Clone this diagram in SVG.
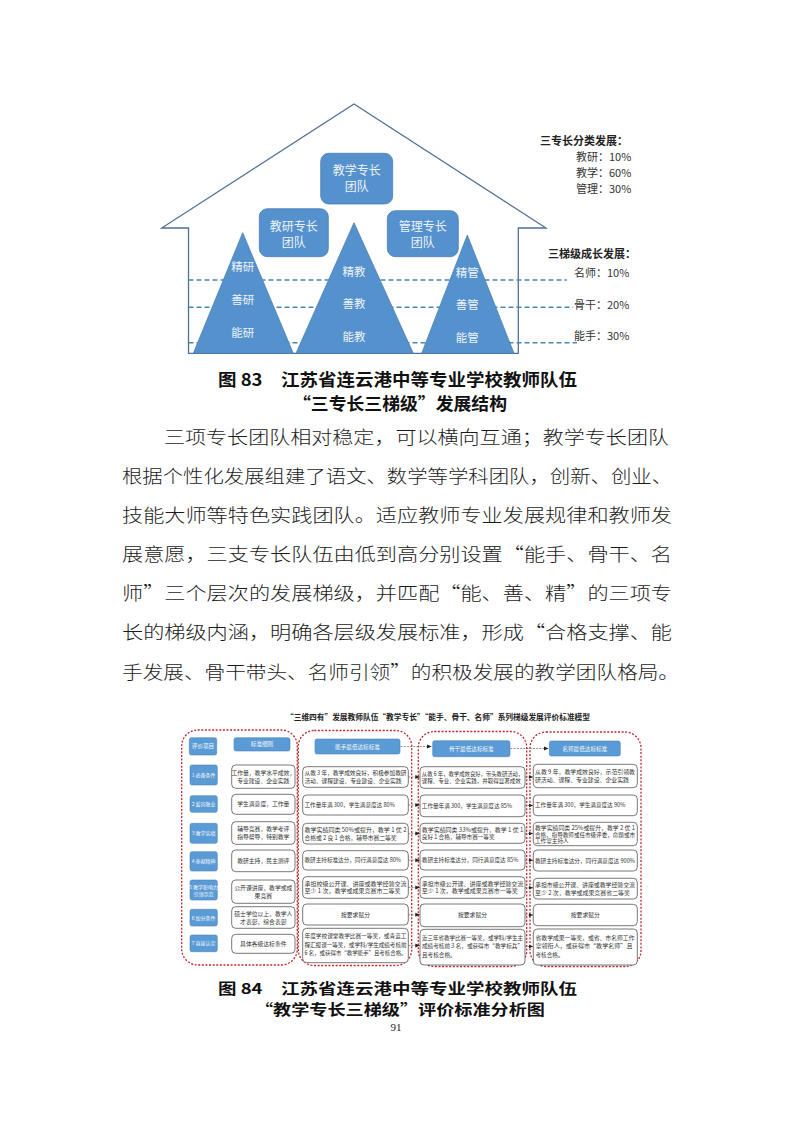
<svg xmlns="http://www.w3.org/2000/svg" width="793" height="1122" viewBox="0 0 793 1122">
<defs>
<style>
.cjk{font-family:"Noto Sans CJK SC","Liberation Sans",sans-serif}
.house{fill:#fff;stroke:#4f7196;stroke-width:1.3}
.lvl{stroke:#4a87ad;stroke-width:1.4;stroke-dasharray:5 3;fill:none}
.tri{fill:#5592cd;stroke:#4a7fb3;stroke-width:0.8}
.tbox{fill:#5592cd;stroke:#4a7fb3;stroke-width:0.8}
.tl{font-size:11.5px;fill:#eef2f7;text-anchor:middle}
.bl{font-size:12px;fill:#eef2f7;text-anchor:middle}
.side{font-size:11px;fill:#333}
.sideb{font-size:11px;fill:#222;font-weight:bold}
.cap{font-size:17px;font-weight:bold;fill:#111}
.cap2{font-size:14.5px;font-weight:bold;fill:#111}
.body{font-size:18px;fill:#1a1a1a;font-weight:300}
.cont{fill:#fff;stroke:#c0282d;stroke-width:1.3;stroke-dasharray:2 1.6}
.blue{fill:#5b9bd5;stroke:#4a84bb;stroke-width:0.6}
.wb{fill:#fff;stroke:#555;stroke-width:0.8}
.lab{font-size:5.6px;fill:#f4f8fc;text-anchor:middle}
.labs{font-size:5px;fill:#f4f8fc;text-anchor:middle}
.t{font-size:5.6px;fill:#333}
.tc{font-size:5.8px;fill:#333;text-anchor:middle}
.conn{stroke:#666;stroke-width:0.7;stroke-dasharray:2 1.2;fill:none}
</style>
<marker id="arr" markerWidth="5" markerHeight="5" refX="4.5" refY="2.5" orient="auto" markerUnits="userSpaceOnUse">
<path d="M0,0.5 L4.5,2.5 L0,4.5 Z" fill="#222"/>
</marker>
</defs>
<rect width="793" height="1122" fill="#fff"/>

<!-- Figure 83 -->
<g id="house">
<path class="house" d="M188.5,353.3 L188.5,228 L161.7,228 L354,104 L546,228 L518.3,228 L518.3,353.3 Z"/>
</g>
<g id="levels">
<line class="lvl" x1="188.5" y1="280" x2="567" y2="280"/>
<line class="lvl" x1="188.5" y1="307.3" x2="573" y2="307.3"/>
<line class="lvl" x1="188.5" y1="342.7" x2="577" y2="342.7"/>
</g>
<g id="tri-research" class="cjk">
<polygon class="tri" points="242.7,232.7 193.3,353.3 293.3,353.3"/>
<text class="tl" x="242.7" y="271">精研</text>
<text class="tl" x="242.7" y="304">善研</text>
<text class="tl" x="242.7" y="337">能研</text>
</g>
<g id="tri-teach" class="cjk">
<polygon class="tri" points="354,222.7 296,353.3 413.3,353.3"/>
<text class="tl" x="354" y="276">精教</text>
<text class="tl" x="354" y="307.5">善教</text>
<text class="tl" x="354" y="341">能教</text>
</g>
<g id="tri-manage" class="cjk">
<polygon class="tri" points="467.3,235 421.7,353.3 514,353.3"/>
<text class="tl" x="467.3" y="277">精管</text>
<text class="tl" x="467.3" y="309">善管</text>
<text class="tl" x="467.3" y="341.5">能管</text>
</g>
<g id="box-teach" class="cjk">
<rect class="tbox" x="320.7" y="153.3" width="72" height="50.7" rx="8"/>
<text class="bl" x="356.7" y="175">教学专长</text>
<text class="bl" x="356.7" y="190.5">团队</text>
</g>
<g id="box-research" class="cjk">
<rect class="tbox" x="259.3" y="208.7" width="69" height="48" rx="8"/>
<text class="bl" x="293.8" y="230.5">教研专长</text>
<text class="bl" x="293.8" y="247">团队</text>
</g>
<g id="box-manage" class="cjk">
<rect class="tbox" x="387.3" y="210.7" width="71" height="46" rx="8"/>
<text class="bl" x="422.8" y="231">管理专长</text>
<text class="bl" x="422.8" y="247">团队</text>
</g>
<g id="legend" class="cjk">
<text class="sideb" x="540" y="144.5">三专长分类发展：</text>
<text class="side" x="576" y="160.5">教研：10%</text>
<text class="side" x="576" y="176.5">教学：60%</text>
<text class="side" x="576" y="193">管理：30%</text>
<text class="sideb" x="548" y="258">三梯级成长发展：</text>
<text class="side" x="574" y="277">名师：10%</text>
<text class="side" x="574" y="309">骨干：20%</text>
<text class="side" x="574" y="340">能手：30%</text>
</g>

<g id="caption83" class="cjk">
<text class="cap" x="218" y="385.5" textLength="359" lengthAdjust="spacingAndGlyphs">图 83　江苏省连云港中等专业学校教师队伍</text>
<text class="cap" x="293" y="409.5" textLength="214" lengthAdjust="spacingAndGlyphs">“三专长三梯级”发展结构</text>
</g>

<g id="body" class="cjk">
<text class="body" x="164" y="443.5" textLength="505" lengthAdjust="spacingAndGlyphs">三项专长团队相对稳定，可以横向互通；教学专长团队</text>
<text class="body" x="122" y="483" textLength="550" lengthAdjust="spacingAndGlyphs">根据个性化发展组建了语文、数学等学科团队，创新、创业、</text>
<text class="body" x="122" y="521.5" textLength="550" lengthAdjust="spacingAndGlyphs">技能大师等特色实践团队。适应教师专业发展规律和教师发</text>
<text class="body" x="122" y="560.5" textLength="550" lengthAdjust="spacingAndGlyphs">展意愿，三支专长队伍由低到高分别设置“能手、骨干、名</text>
<text class="body" x="122" y="600" textLength="550" lengthAdjust="spacingAndGlyphs">师”三个层次的发展梯级，并匹配“能、善、精”的三项专</text>
<text class="body" x="122" y="639" textLength="550" lengthAdjust="spacingAndGlyphs">长的梯级内涵，明确各层级发展标准，形成“合格支撑、能</text>
<text class="body" x="122" y="678.5" textLength="557" lengthAdjust="spacingAndGlyphs">手发展、骨干带头、名师引领”的积极发展的教学团队格局。</text>
</g>

<!-- Figure 84 -->
<g id="title84" class="cjk">
<text x="286" y="719.5" font-size="7.6" font-weight="bold" fill="#222" textLength="304" lengthAdjust="spacingAndGlyphs">“三维四有”发展教师队伍“教学专长”“能手、骨干、名师”系列梯级发展评价标准模型</text>
</g>

<g id="containers">
<rect class="cont" x="181.7" y="730" width="115.6" height="235" rx="16"/>
<rect class="cont" x="298.3" y="730.5" width="113.4" height="235" rx="16"/>
<rect class="cont" x="418.3" y="731.5" width="108.4" height="235" rx="16"/>
<rect class="cont" x="530" y="732" width="111" height="234.5" rx="16"/>
</g>

<g id="col-items" class="cjk">
<g id="h-item"><rect class="blue" x="189.3" y="737.7" width="27.4" height="17.3" rx="2"/><text class="lab" x="203" y="748.3">评价项目</text></g>
<g id="i1"><rect class="blue" x="190" y="765" width="27.3" height="20" rx="2"/><text class="labs" x="203.6" y="777">1 必备条件</text></g>
<g id="i2"><rect class="blue" x="190" y="795.7" width="27.3" height="16.6" rx="2"/><text class="labs" x="203.6" y="805.8">2 爱岗敬业</text></g>
<g id="i3"><rect class="blue" x="190" y="823.3" width="27.3" height="20" rx="2"/><text class="labs" x="203.6" y="835.2">3 教学实绩</text></g>
<g id="i4"><rect class="blue" x="190" y="851.7" width="27.3" height="19.3" rx="2"/><text class="labs" x="203.6" y="863.2">4 奉献精神</text></g>
<g id="i5"><rect class="blue" x="190" y="880" width="27.3" height="20" rx="2"/><text class="labs" x="203.6" y="888.6">5 教学影响力</text><text class="labs" x="203.6" y="895.8">引领示范</text></g>
<g id="i6"><rect class="blue" x="190" y="909.3" width="27.3" height="16.7" rx="2"/><text class="labs" x="203.6" y="919.5">6 加分条件</text></g>
<g id="i7"><rect class="blue" x="190" y="935" width="27.3" height="16.7" rx="2"/><text class="labs" x="203.6" y="945.2">7 直接认定</text></g>
</g>

<g id="col-rules" class="cjk">
<g id="r-h"><rect class="blue" x="234" y="737.7" width="56" height="13.3" rx="2"/><text class="lab" x="262" y="746.4">标准细则</text></g>
<g id="r1"><rect class="wb" x="231.7" y="765" width="63.3" height="23.3" rx="4"/><text class="tc" x="263.3" y="775">工作量，教学水平成效，</text><text class="tc" x="263.3" y="782.5">专业建设、企业实践</text></g>
<g id="r2"><rect class="wb" x="231.7" y="794.3" width="63.3" height="20" rx="4"/><text class="tc" x="263.3" y="806.3">学生满意度，工作量</text></g>
<g id="r3"><rect class="wb" x="231.7" y="821.7" width="63.3" height="22.6" rx="4"/><text class="tc" x="263.3" y="831.3">辅导竞赛，教学考评</text><text class="tc" x="263.3" y="839">指导帮导，特别教学</text></g>
<g id="r4"><rect class="wb" x="231.7" y="850" width="63.3" height="21.7" rx="4"/><text class="tc" x="263.3" y="862.8">教研主持，民主测评</text></g>
<g id="r5"><rect class="wb" x="231.7" y="880" width="63.3" height="23.3" rx="4"/><text class="tc" x="263.3" y="890">公开课讲座，教学或成</text><text class="tc" x="263.3" y="897.6">果竞赛</text></g>
<g id="r6"><rect class="wb" x="231.7" y="906.7" width="63.3" height="21.6" rx="4"/><text class="tc" x="263.3" y="916">硕士学位以上，教学人</text><text class="tc" x="263.3" y="923.6">才表彰，综合表彰</text></g>
<g id="r7"><rect class="wb" x="231.7" y="934.3" width="63.3" height="19" rx="4"/><text class="tc" x="263.3" y="945.8">具体各级达标条件</text></g>
</g>

<g id="col-nengshou" class="cjk">
<g id="n-h"><rect class="blue" x="315" y="739" width="85" height="15" rx="2"/><text class="lab" x="357.5" y="748.6">能手最低达标标准</text></g>
<g id="n1"><rect class="wb" x="302.7" y="766.7" width="105.6" height="20.6" rx="4"/><text class="t" x="304.5" y="775.3" textLength="102" lengthAdjust="spacingAndGlyphs">从教 3 年，教学成效良好，积极参加教研</text><text class="t" x="304.5" y="782.8" textLength="97" lengthAdjust="spacingAndGlyphs">活动、课程建设、专业建设、企业实践</text></g>
<g id="n2"><rect class="wb" x="302.7" y="795" width="105.6" height="20" rx="4"/><text class="t" x="304.5" y="807">工作量年满 300，学生满意度达 80%</text></g>
<g id="n3"><rect class="wb" x="302.7" y="823.3" width="105.6" height="20.7" rx="4"/><text class="t" x="304.5" y="832" textLength="102" lengthAdjust="spacingAndGlyphs">教学实绩同类 50%或提升，教学 1 优 2</text><text class="t" x="304.5" y="839.5" textLength="92" lengthAdjust="spacingAndGlyphs">合格或 2 良 1 合格，辅导市赛二等奖</text></g>
<g id="n4"><rect class="wb" x="302.7" y="850.7" width="105.6" height="19.3" rx="4"/><text class="t" x="304.5" y="862.3">教研主持标准达分，同行满意度达 80%</text></g>
<g id="n5"><rect class="wb" x="302.7" y="876.7" width="105.6" height="21.6" rx="4"/><text class="t" x="304.5" y="885.8" textLength="102" lengthAdjust="spacingAndGlyphs">承担校级公开课、讲座或教学经验交流</text><text class="t" x="304.5" y="893.3" textLength="96" lengthAdjust="spacingAndGlyphs">至少 1 次，教学或成果竞赛市二等奖</text></g>
<g id="n6"><rect class="wb" x="302.7" y="904" width="105.6" height="21" rx="4"/><text class="tc" x="355.5" y="916.5">按要求赋分</text></g>
<g id="n7"><rect class="wb" x="302.7" y="928.3" width="105.6" height="34.4" rx="4"/><text class="t" x="304.5" y="938" textLength="102" lengthAdjust="spacingAndGlyphs">年度学校课堂教学比赛一等奖，或青蓝工</text><text class="t" x="304.5" y="946.5" textLength="102" lengthAdjust="spacingAndGlyphs">程汇报课一等奖，或学科/学生成绩考核前</text><text class="t" x="304.5" y="955" textLength="102" lengthAdjust="spacingAndGlyphs">6 名，或获得市“教学能手”且考核合格。</text></g>
</g>

<g id="col-gugan" class="cjk">
<g id="g-h"><rect class="blue" x="432.7" y="740.7" width="77.3" height="16" rx="2"/><text class="lab" x="471.3" y="750.8">骨干最低达标标准</text></g>
<g id="g1"><rect class="wb" x="420" y="766.7" width="105" height="21.6" rx="4"/><text class="t" x="421.8" y="775.8" textLength="101.5" lengthAdjust="spacingAndGlyphs">从教 6 年，教学成效良好，带头教研活动，</text><text class="t" x="421.8" y="783.3" textLength="99" lengthAdjust="spacingAndGlyphs">课程、专业、企业实践，并取得显著成效</text></g>
<g id="g2"><rect class="wb" x="420" y="795" width="105" height="21.7" rx="4"/><text class="t" x="421.8" y="807.8">工作量年满 300，学生满意度达 85%</text></g>
<g id="g3"><rect class="wb" x="420" y="823.3" width="105" height="20" rx="4"/><text class="t" x="421.8" y="831.8" textLength="101.5" lengthAdjust="spacingAndGlyphs">教学实绩同类 33%或提升，教学 1 优 1</text><text class="t" x="421.8" y="839.3">良好 1 合格，辅导市赛一等奖</text></g>
<g id="g4"><rect class="wb" x="420" y="850" width="105" height="20" rx="4"/><text class="t" x="421.8" y="862">教研主持标准达分，同行满意度达 85%</text></g>
<g id="g5"><rect class="wb" x="420" y="876.7" width="105" height="21.6" rx="4"/><text class="t" x="421.8" y="885.8" textLength="101.5" lengthAdjust="spacingAndGlyphs">承担市级公开课、讲座或教学经验交流</text><text class="t" x="421.8" y="893.3" textLength="96" lengthAdjust="spacingAndGlyphs">至少 1 次，教学或成果竞赛市一等奖</text></g>
<g id="g6"><rect class="wb" x="420" y="904" width="105" height="22.7" rx="4"/><text class="tc" x="472.5" y="917.3">按要求赋分</text></g>
<g id="g7"><rect class="wb" x="420" y="929.3" width="105" height="35.7" rx="4"/><text class="t" x="422" y="939.5" textLength="101" lengthAdjust="spacingAndGlyphs">近三年省教学比赛一等奖，或学科/学生主</text><text class="t" x="422" y="948" textLength="101" lengthAdjust="spacingAndGlyphs">成绩考核前 3 名，或获得市“教学标兵”</text><text class="t" x="422" y="956.5">且考核合格。</text></g>
</g>

<g id="col-mingshi" class="cjk">
<g id="m-h"><rect class="blue" x="549.3" y="741" width="71" height="15" rx="2"/><text class="lab" x="584.8" y="750.6">名师最低达标标准</text></g>
<g id="m1"><rect class="wb" x="533.3" y="764.3" width="104" height="23.4" rx="4"/><text class="t" x="535" y="774" textLength="100" lengthAdjust="spacingAndGlyphs">从教 9 年，教学成效良好，示范引领教</text><text class="t" x="535" y="781.8" textLength="94" lengthAdjust="spacingAndGlyphs">研活动、课程、专业建设、企业实践</text></g>
<g id="m2"><rect class="wb" x="533.3" y="795" width="104" height="20.7" rx="4"/><text class="t" x="535" y="807.3">工作量年满 300，学生满意度达 90%</text></g>
<g id="m3"><rect class="wb" x="533.3" y="822.3" width="104" height="23.4" rx="4"/><text class="t" x="535" y="829.8" textLength="100" lengthAdjust="spacingAndGlyphs">教学实绩同类 25%或提升，教学 2 优 1</text><text class="t" x="535" y="836.6" textLength="100" lengthAdjust="spacingAndGlyphs">合格，指导教师或任市级评委，命题或市</text><text class="t" x="535" y="843.4">工作室主持人</text></g>
<g id="m4"><rect class="wb" x="533.3" y="850" width="104" height="21" rx="4"/><text class="t" x="535" y="862.5" textLength="100" lengthAdjust="spacingAndGlyphs">教研主持标准达分，同行满意度达 900%</text></g>
<g id="m5"><rect class="wb" x="533.3" y="878.3" width="104" height="20.7" rx="4"/><text class="t" x="535" y="887" textLength="100" lengthAdjust="spacingAndGlyphs">承担市级公开课、讲座或教学经验交流</text><text class="t" x="535" y="894.5" textLength="95" lengthAdjust="spacingAndGlyphs">至少 2 次，教学或成果竞赛省二等奖</text></g>
<g id="m6"><rect class="wb" x="533.3" y="904.3" width="104" height="21.4" rx="4"/><text class="tc" x="585.3" y="917">按要求赋分</text></g>
<g id="m7"><rect class="wb" x="533.3" y="929" width="104" height="36" rx="4"/><text class="t" x="535.5" y="939.5" textLength="99" lengthAdjust="spacingAndGlyphs">省教学成果一等奖，或省、市名师工作</text><text class="t" x="535.5" y="948" textLength="97" lengthAdjust="spacingAndGlyphs">室领衔人，或获得市“教学名师”且</text><text class="t" x="535.5" y="956.5">考核合格。</text></g>
</g>

<g id="connectors">
<line class="conn" x1="400.5" y1="746.5" x2="431.5" y2="746.5" marker-end="url(#arr)"/>
<line class="conn" x1="510.5" y1="748.5" x2="548.5" y2="748.5" marker-end="url(#arr)"/>
<line class="conn" x1="408.3" y1="777" x2="419.8" y2="777" marker-end="url(#arr)"/>
<line class="conn" x1="408.3" y1="805" x2="419.8" y2="805" marker-end="url(#arr)"/>
<line class="conn" x1="408.3" y1="833.6" x2="419.8" y2="833.6" marker-end="url(#arr)"/>
<line class="conn" x1="408.3" y1="860.2" x2="419.8" y2="860.2" marker-end="url(#arr)"/>
<line class="conn" x1="408.3" y1="887.5" x2="419.8" y2="887.5" marker-end="url(#arr)"/>
<line class="conn" x1="408.3" y1="914.8" x2="419.8" y2="914.8" marker-end="url(#arr)"/>
<line class="conn" x1="408.3" y1="945.5" x2="419.8" y2="945.5" marker-end="url(#arr)"/>
<line class="conn" x1="525" y1="777" x2="533" y2="777" marker-end="url(#arr)"/>
<line class="conn" x1="525" y1="805.5" x2="533" y2="805.5" marker-end="url(#arr)"/>
<line class="conn" x1="525" y1="833.5" x2="533" y2="833.5" marker-end="url(#arr)"/>
<line class="conn" x1="525" y1="860.3" x2="533" y2="860.3" marker-end="url(#arr)"/>
<line class="conn" x1="525" y1="887.8" x2="533" y2="887.8" marker-end="url(#arr)"/>
<line class="conn" x1="525" y1="915" x2="533" y2="915" marker-end="url(#arr)"/>
<line class="conn" x1="525" y1="946.5" x2="533" y2="946.5" marker-end="url(#arr)"/>
</g>

<g id="caption84" class="cjk">
<text class="cap2" x="218" y="993.5" textLength="359" lengthAdjust="spacingAndGlyphs">图 84　江苏省连云港中等专业学校教师队伍</text>
<text class="cap2" x="255" y="1014.5" textLength="290" lengthAdjust="spacingAndGlyphs">“教学专长三梯级”评价标准分析图</text>
</g>
<text x="396" y="1030.5" font-family="Liberation Serif, serif" font-size="11" fill="#222" text-anchor="middle">91</text>
</svg>
